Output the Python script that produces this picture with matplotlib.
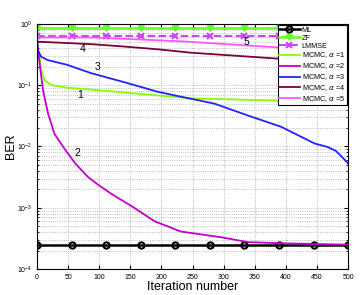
import numpy as np
import matplotlib.pyplot as plt
from matplotlib.ticker import LogLocator, NullFormatter, MultipleLocator

plt.rcParams['font.family'] = ['Liberation Sans', 'DejaVu Sans']

# marker positions for the constant reference curves
ref_iter = [0, 55.6, 111.1, 166.7, 222.2, 277.8, 333.3, 388.9, 444.4, 500]
ber_ml = [2.5e-4] * 10
ber_zf = [0.85] * 10
ber_lmmse = [0.64] * 10

# MCMC curves (iteration, BER)
it1 = [0, 2, 4, 6.7, 12, 23, 49, 86, 166, 247, 386, 440, 500]
ber1 = [0.51, 0.38, 0.29, 0.178, 0.12, 0.1, 0.091, 0.085, 0.072, 0.061, 0.056, 0.053, 0.05]

it2 = [0, 2, 4, 9.5, 17.5, 28, 45, 62, 81.5, 100, 119, 156, 189, 231, 296, 339, 400, 500]
ber2 = [0.51, 0.35, 0.23, 0.083, 0.035, 0.016, 0.0089, 0.0052, 0.0032, 0.0023, 0.0017, 0.001, 0.0006,
        0.00041, 0.00033, 0.000275, 0.000262, 0.00025]

it3 = [0, 1.3, 6.7, 17, 49, 86, 140, 194, 231, 285, 339, 392, 446, 467, 480, 488, 500]
ber3 = [0.51, 0.37, 0.29, 0.257, 0.214, 0.158, 0.112, 0.078, 0.065, 0.05, 0.032, 0.021, 0.0112,
        0.0098, 0.0085, 0.0071, 0.0053]

it4 = [0, 86, 140, 194, 247, 320, 392, 440, 480, 500]
ber4 = [0.513, 0.468, 0.427, 0.385, 0.339, 0.302, 0.269, 0.24, 0.209, 0.182]

it5 = [0, 86, 160, 231, 300, 392, 450, 500]
ber5 = [0.6, 0.6, 0.56, 0.52, 0.47, 0.41, 0.38, 0.35]

fig = plt.figure(figsize=(3.6, 2.95), dpi=100)
ax = fig.add_axes([0.103, 0.088, 0.864, 0.831])

ax.semilogy(ref_iter, ber_ml, 'o-', color='black', lw=1.8, ms=4.5, mfc='none', mew=1.5, label='ML')
ax.semilogy(ref_iter, ber_zf, 'v-', color='#66ff22', lw=1.8, ms=5, label='ZF')
ax.semilogy(ref_iter, ber_lmmse, 'x--', color='#cc44ff', lw=1.5, ms=4, mew=1.5, label='LMMSE')
ax.semilogy(it1, ber1, color='#88ff00', lw=1.3, label=r'MCMC, $\alpha$ =1')
ax.semilogy(it2, ber2, color='#c000c8', lw=1.3, label=r'MCMC, $\alpha$ =2')
ax.semilogy(it3, ber3, color='#2222ff', lw=1.3, label=r'MCMC, $\alpha$ =3')
ax.semilogy(it4, ber4, color='#7a0040', lw=1.3, label=r'MCMC, $\alpha$ =4')
ax.semilogy(it5, ber5, color='#ff55ff', lw=1.3, label=r'MCMC, $\alpha$ =5')

ax.set_xlim(0, 500)
ax.set_ylim(1e-4, 1)
ax.xaxis.set_major_locator(MultipleLocator(50))
ax.yaxis.set_major_locator(LogLocator(base=10, numticks=10))
ax.yaxis.set_minor_locator(LogLocator(base=10, subs=np.arange(2, 10), numticks=10))
ax.yaxis.set_minor_formatter(NullFormatter())
ax.tick_params(which='both', direction='in', labelsize=5, top=True, right=True)
ax.tick_params(which='major', length=3)
ax.tick_params(which='minor', length=1.5)
ax.grid(True, which='major', ls=':', color='#aaaaaa', lw=0.6)
ax.grid(True, which='minor', axis='y', ls=':', color='#aaaaaa', lw=0.6)

ax.set_xlabel('Iteration number', fontsize=9, labelpad=0)
ax.set_ylabel('BER', fontsize=9, labelpad=0)

for txt, x, y in [('4', 74, 0.385), ('3', 97, 0.2), ('1', 69, 0.069), ('2', 64, 0.0077), ('5', 336, 0.5)]:
    ax.text(x, y, txt, fontsize=7.5, ha='center', va='center')

leg = ax.legend(loc='upper right', fontsize=5.2, fancybox=False, framealpha=1,
                edgecolor='black', borderaxespad=0.15, handlelength=2.8,
                labelspacing=0.12, borderpad=0.25, handletextpad=0.3)
leg.get_frame().set_linewidth(0.8)

fig.savefig('out.png', dpi=100)
